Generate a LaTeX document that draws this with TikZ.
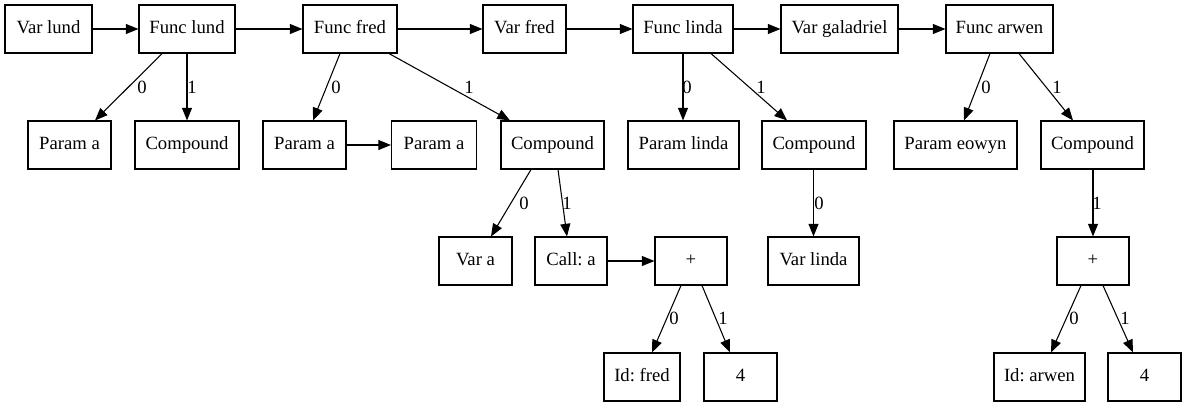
\documentclass[tikz,border=0pt]{standalone}
\usepackage{fontspec}
\setmainfont{Liberation Serif}
\usetikzlibrary{arrows.meta,calc}
\frenchspacing
\begin{document}
\begin{tikzpicture}[x=0.75pt,y=-0.75pt,
  box/.style={draw,line width=0.8pt,rectangle,minimum height=36pt,inner sep=0pt,text height=10.6pt,text depth=3.2pt,font=\fontsize{14pt}{16pt}\selectfont},
  bw/.style={minimum width=#1*0.75pt},
  arr/.style={line width=0.8pt,-{Triangle[length=9.5pt,width=7.5pt]}},
  lbl/.style={inner sep=0pt,font=\fontsize{14pt}{16pt}\selectfont}]
\useasboundingbox (0,0) rectangle (1186,407);
% row 1
\node[box,bw=87]  (vl)  at (48.5,29)  {Var lund};
\node[box,bw=96]  (fl)  at (187,29)   {Func lund};
\node[box,bw=94]  (ff)  at (350,29)   {Func fred};
\node[box,bw=83]  (vf)  at (524.5,29) {Var fred};
\node[box,bw=100] (fli) at (683,29)   {Func linda};
\node[box,bw=117] (vg)  at (839.5,29) {Var galadriel};
\node[box,bw=107] (fa)  at (999.5,29) {Func arwen};
% row 2
\node[box,bw=83]  (pa1) at (69.5,145)  {Param a};
\node[box,bw=104] (c1)  at (187,145)   {Compound};
\node[box,bw=83]  (pa2) at (304.5,145) {Param a};
\node[box,bw=85]  (pa3) at (434,145)   {Param a};
\node[box,bw=103] (c2)  at (552.5,145) {Compound};
\node[box,bw=111] (pl)  at (683.5,145) {Param linda};
\node[box,bw=104] (c3)  at (814,145)   {Compound};
\node[box,bw=123] (pe)  at (955.5,145) {Param eowyn};
\node[box,bw=103] (c4)  at (1092.5,145){Compound};
% row 3
\node[box,bw=73]  (va)  at (475.5,261) {Var a};
\node[box,bw=72]  (ca)  at (571,261)   {Call: a};
\node[box,bw=72]  (p1)  at (691,261)   {+};
\node[box,bw=91]  (vli) at (813.5,261) {Var linda};
\node[box,bw=72]  (p2)  at (1093,261)  {+};
% row 4
\node[box,bw=76]  (idf) at (642,377)   {Id: fred};
\node[box,bw=73]  (f1)  at (740.5,377) {4};
\node[box,bw=91]  (ida) at (1039.5,377){Id: arwen};
\node[box,bw=73]  (f2)  at (1144.5,377){4};
% horizontal edges
\draw[arr] (vl) -- (fl);
\draw[arr] (fl) -- (ff);
\draw[arr] (ff) -- (vf);
\draw[arr] (vf) -- (fli);
\draw[arr] (fli) -- (vg);
\draw[arr] (vg) -- (fa);
\draw[arr] (pa2) -- (pa3);
\draw[arr] (ca) -- (p1);
% tree edges
\draw[arr] ($(fl.south)+(-25,0)$) -- ($(pa1.north)+(25.5,0)$);
\draw[arr] (fl.south) -- (c1.north);
\draw[arr] ($(ff.south)+(-10,0)$) -- ($(pa2.north)+(8.5,0)$);
\draw[arr] ($(ff.south)+(39,0)$) -- ($(c2.north)+(-42.5,0)$);
\draw[arr] (fli.south) -- ($(pl.north)+(-0.5,0)$);
\draw[arr] ($(fli.south)+(28,0)$) -- ($(c3.north)+(-27,0)$);
\draw[arr] ($(fa.south)+(-9.5,0)$) -- ($(pe.north)+(8.5,0)$);
\draw[arr] ($(fa.south)+(19.5,0)$) -- ($(c4.north)+(-19.5,0)$);
\draw[arr] ($(c2.south)+(-21.5,0)$) -- ($(va.north)+(15.5,0)$);
\draw[arr] ($(c2.south)+(5.5,0)$) -- ($(ca.north)+(-4,0)$);
\draw[arr] ($(c3.south)+(-0.5,0)$) -- (vli.north);
\draw[arr] ($(c4.south)+(0.5,0)$) -- (p2.north);
\draw[arr] ($(p1.south)+(-10,0)$) -- ($(idf.north)+(10,0)$);
\draw[arr] ($(p1.south)+(11,0)$) -- ($(f1.north)+(-10.5,0)$);
\draw[arr] ($(p2.south)+(-12,0)$) -- ($(ida.north)+(11.5,0)$);
\draw[arr] ($(p2.south)+(10,0)$) -- ($(f2.north)+(-11.5,0)$);
% edge labels
\node[lbl] (l1)  at (142,87)  {0};
\node[lbl] (l2)  at (192,87)  {1};
\node[lbl] (l3)  at (336,87)  {0};
\node[lbl] (l4)  at (469,87)  {1};
\node[lbl] (l5)  at (687,87)  {0};
\node[lbl] (l6)  at (761,87)  {1};
\node[lbl] (l7)  at (986,87)  {0};
\node[lbl] (l8)  at (1057,87) {1};
\node[lbl] (l9)  at (524,203) {0};
\node[lbl] (l10) at (567,203) {1};
\node[lbl] (l11) at (819,203) {0};
\node[lbl] (l12) at (1097,203){1};
\node[lbl] (l13) at (674,318) {0};
\node[lbl] (l14) at (723,318) {1};
\node[lbl] (l15) at (1074,318){0};
\node[lbl] (l16) at (1125,318){1};
\end{tikzpicture}
\end{document}
